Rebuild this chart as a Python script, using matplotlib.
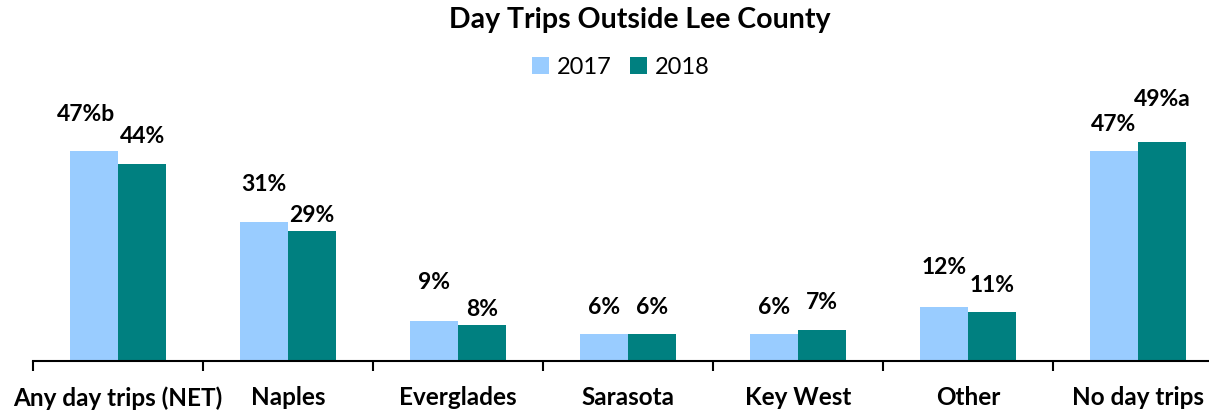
import matplotlib
matplotlib.use("Agg")
import matplotlib.pyplot as plt
import numpy as np

categories = ["Any day trips (NET)", "Naples", "Everglades", "Sarasota",
              "Key West", "Other", "No day trips"]
vals_2017 = [47, 31, 9, 6, 6, 12, 47]
vals_2018 = [44, 29, 8, 6, 7, 11, 49]
labels_2017 = ["47%b", "31%", "9%", "6%", "6%", "12%", "47%"]
labels_2018 = ["44%", "29%", "8%", "6%", "7%", "11%", "49%a"]

# label offsets above bar tops, in pixels (as in the source)
off_2017 = [36, 38, 38, 27, 27, 40, 26]
off_2018 = [28, 16, 16, 27, 27, 26, 42]
dx_2017 = [-8, 0, 0, 0, 0, 0, 0]

plt.rcParams['font.family'] = ['Lato', 'DejaVu Sans']

W, H = 1209, 412
fig = plt.figure(figsize=(W / 100, H / 100), dpi=100)
px = 72 / 100  # points per pixel

# axes: x from 33 to 1223 px, baseline at 361 px, 4.47 px per percent
ymax = 55
ax_h = 4.47 * ymax
ax = fig.add_axes([33 / W, (H - 361) / H, 1190 / W, ax_h / H])

x = np.arange(len(categories))
w = 0.285
b1 = ax.bar(x - w / 2, vals_2017, w, color="#99CCFF", label="2017")
b2 = ax.bar(x + w / 2, vals_2018, w, color="#008080", label="2018")

for i in range(len(categories)):
    ax.annotate(labels_2017[i], (x[i] - w / 2, vals_2017[i]),
                xytext=(dx_2017[i] * px, off_2017[i] * px), textcoords="offset points",
                ha="center", va="center", fontsize=16.5, fontweight="bold")
    ax.annotate(labels_2018[i], (x[i] + w / 2, vals_2018[i]),
                xytext=(0, off_2018[i] * px), textcoords="offset points",
                ha="center", va="center", fontsize=16.5, fontweight="bold")

ax.set_xlim(-0.5, len(categories) - 0.5)
ax.set_ylim(0, ymax)
ax.set_yticks([])
for s in ["top", "right", "left"]:
    ax.spines[s].set_visible(False)
ax.spines["bottom"].set_linewidth(1.5)

ax.set_xticks(x)
ax.set_xticklabels(categories, fontsize=17.5, fontweight="bold")
ax.tick_params(axis="x", length=0, pad=18)
ax.set_xticks(np.arange(-0.5, len(categories)), minor=True)
ax.tick_params(axis="x", which="minor", length=7, width=1.5, direction="out")

fig.text(640 / W, 1 - 20 / H, "Day Trips Outside Lee County", ha="center", va="center",
         fontsize=20.5, fontweight="bold")
fig.legend(handles=[b1, b2], loc="center", bbox_to_anchor=(621 / W, 1 - 67 / H),
           ncol=2, frameon=False, fontsize=17, handlelength=0.7, handleheight=0.7,
           handletextpad=0.35, columnspacing=0.8)

fig.savefig("out.png", dpi=100)
